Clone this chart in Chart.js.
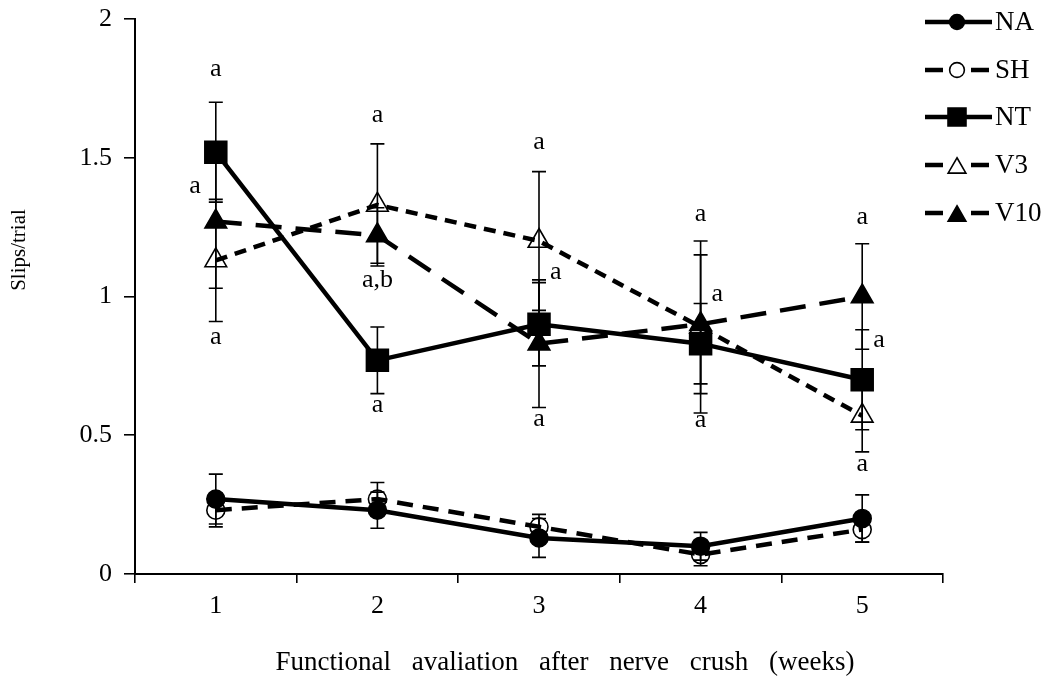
<!DOCTYPE html>
<html>
<head>
<meta charset="utf-8">
<script src="https://cdn.jsdelivr.net/npm/chart.js@4/dist/chart.umd.min.js"></script>
<style>
  html, body { margin: 0; padding: 0; background: #ffffff; }
  #c { display: block; }
</style>
</head>
<body>
<canvas id="c" width="1056" height="688"></canvas>
<script>
// ---- data ----
const weeks = ['1', '2', '3', '4', '5'];
const seriesNames = ['NA', 'SH', 'NT', 'V3', 'V10'];

const NA  = [0.27, 0.23, 0.13, 0.10, 0.20];
const NA_err  = [0.09, 0.065, 0.07, 0.05, 0.085];
const SH  = [0.23, 0.27, 0.17, 0.07, 0.16];
const SH_err  = [0.06, 0.06, 0.045, 0.04, 0.045];
const NT  = [1.52, 0.77, 0.90, 0.83, 0.70];
const NT_err  = [0.18, 0.12, 0.15, 0.145, 0.18];
const V3  = [1.13, 1.33, 1.20, 0.89, 0.57];
const V3_err  = [0.22, 0.22, 0.25, 0.31, 0.13];
const V10 = [1.27, 1.22, 0.83, 0.90, 1.00];
const V10_err = [0.24, 0.10, 0.23, 0.25, 0.19];

const yTicks = [0, 0.5, 1, 1.5, 2];

// significance letters: week, text, value on y axis, side of the bar
const letterWeek = [1, 1, 1, 2, 2, 2, 3, 3, 3, 4, 4, 4, 5, 5, 5];
const letterText = ['a', 'a', 'a', 'a', 'a,b', 'a', 'a', 'a', 'a', 'a', 'a', 'a', 'a', 'a', 'a'];
const letterY    = [1.81, 1.385, 0.843, 1.643, 1.049, 0.598, 1.546, 1.077, 0.548, 1.286, 0.998, 0.544, 1.276, 0.832, 0.386];
const letterSide = ['c', 'l', 'c', 'c', 'c', 'c', 'c', 'r', 'c', 'c', 'r', 'c', 'c', 'r', 'c'];

const xTitle = 'Functional avaliation after nerve crush (weeks)';
const yTitle = 'Slips/trial';

// ---- chart ----
const SERIF = '"Liberation Serif", "Times New Roman", serif';
const errs = [NA_err, SH_err, NT_err, V3_err, V10_err];

function ds(label, data, style, radius, fill, dash) {
  return {
    label, data,
    borderColor: '#000', backgroundColor: '#000',
    borderWidth: 4.5, borderDash: dash, tension: 0,
    pointStyle: style, pointRadius: radius, pointHoverRadius: radius,
    pointBackgroundColor: fill, pointBorderColor: '#000', pointBorderWidth: 1.6,
    fill: false
  };
}

const datasets = [
  ds(seriesNames[0], NA, 'circle', 9, '#000', []),
  ds(seriesNames[1], SH, 'circle', 9, 'rgba(0,0,0,0)', [16, 10]),
  ds(seriesNames[2], NT, 'rect', 15.5, '#000', []),
  ds(seriesNames[3], V3, 'triangle', 12.5, 'rgba(0,0,0,0)', [12, 8]),
  ds(seriesNames[4], V10, 'triangle', 12.5, '#000', [26, 14])
];

const extras = {
  id: 'extras',
  beforeDraw(chart) {
    const ctx = chart.ctx;
    ctx.save();
    ctx.fillStyle = '#fff';
    ctx.fillRect(0, 0, chart.width, chart.height);
    ctx.restore();
  },
  beforeDatasetsDraw(chart) {
    const ctx = chart.ctx;
    const xs = chart.scales.x, ys = chart.scales.y;
    ctx.save();
    ctx.strokeStyle = '#000';
    ctx.lineWidth = 1.6;
    chart.data.datasets.forEach((d, i) => {
      d.data.forEach((v, j) => {
        const e = errs[i][j];
        const x = xs.getPixelForValue(j);
        const y1 = ys.getPixelForValue(v + e);
        const y2 = ys.getPixelForValue(v - e);
        ctx.beginPath();
        ctx.moveTo(x, y1); ctx.lineTo(x, y2);
        ctx.moveTo(x - 7, y1); ctx.lineTo(x + 7, y1);
        ctx.moveTo(x - 7, y2); ctx.lineTo(x + 7, y2);
        ctx.stroke();
      });
    });
    ctx.restore();
  },
  afterDraw(chart) {
    const ctx = chart.ctx;
    const xs = chart.scales.x, ys = chart.scales.y;
    ctx.save();
    ctx.fillStyle = '#000';
    // letters
    ctx.font = '26px ' + SERIF;
    ctx.textBaseline = 'middle';
    letterText.forEach((t, k) => {
      let x = xs.getPixelForValue(letterWeek[k] - 1);
      const y = ys.getPixelForValue(letterY[k]);
      if (letterSide[k] === 'l') { ctx.textAlign = 'right'; x -= 15; }
      else if (letterSide[k] === 'r') { ctx.textAlign = 'left'; x += 11; }
      else { ctx.textAlign = 'center'; }
      ctx.fillText(t, x, y - 3);
    });
    // x title
    ctx.font = '27px ' + SERIF;
    ctx.textAlign = 'center';
    ctx.textBaseline = 'middle';
    try { ctx.wordSpacing = '14px'; } catch (e) {}
    ctx.fillText(xTitle, 565, 663);
    try { ctx.wordSpacing = '0px'; } catch (e) {}
    // y title
    ctx.save();
    ctx.translate(19, 250);
    ctx.rotate(-Math.PI / 2);
    ctx.font = '21px ' + SERIF;
    ctx.fillText(yTitle, 0, 0);
    ctx.restore();
    // legend
    const rows = [22, 70, 117, 165, 213];
    chart.data.datasets.forEach((d, i) => {
      const y = rows[i];
      ctx.save();
      ctx.strokeStyle = '#000';
      ctx.lineWidth = 4.5;
      ctx.lineCap = 'butt';
      ctx.setLineDash([]);
      ctx.beginPath();
      if (d.borderDash.length === 0) {
        ctx.moveTo(925, y); ctx.lineTo(992, y);
      } else {
        ctx.moveTo(925, y); ctx.lineTo(943, y);
        ctx.moveTo(971, y); ctx.lineTo(989, y);
      }
      ctx.stroke();
      ctx.fillStyle = d.pointBackgroundColor;
      ctx.strokeStyle = '#000';
      ctx.lineWidth = 1.6;
      Chart.helpers.drawPoint(ctx, {
        pointStyle: d.pointStyle,
        radius: d.pointRadius * 0.82,
        borderWidth: 1.6,
        rotation: 0
      }, 957, y + (d.pointStyle === 'triangle' ? 3 : 0));
      ctx.restore();
      ctx.fillStyle = '#000';
      ctx.font = '27px ' + SERIF;
      ctx.textAlign = 'left';
      ctx.textBaseline = 'middle';
      ctx.fillText(d.label, 995, y + 1);
    });
    ctx.restore();
  }
};

new Chart(document.getElementById('c'), {
  type: 'line',
  data: { labels: weeks, datasets },
  plugins: [extras],
  options: {
    responsive: false,
    animation: false,
    layout: { padding: { left: 0, right: 113, top: 19, bottom: 0 } },
    plugins: { legend: { display: false }, tooltip: { enabled: false } },
    scales: {
      x: {
        type: 'category',
        offset: true,
        grid: { display: true, offset: true, drawOnChartArea: false, drawTicks: true, tickLength: 9, color: '#000', lineWidth: 1.6 },
        border: { display: true, color: '#000', width: 2 },
        ticks: { color: '#000', font: { family: SERIF, size: 26 }, padding: 8, maxRotation: 0 },
        afterFit(s) { s.height = 114; s.paddingLeft = 0; s.paddingRight = 0; }
      },
      y: {
        min: 0, max: 2,
        afterBuildTicks(s) { s.ticks = yTicks.map(v => ({ value: v })); },
        grid: { display: true, drawOnChartArea: false, drawTicks: true, tickLength: 11, color: '#000', lineWidth: 1.6 },
        border: { display: true, color: '#000', width: 2 },
        ticks: { color: '#000', font: { family: SERIF, size: 26 }, padding: 12, callback: (v) => String(v) },
        afterFit(s) { s.width = 135; s.paddingTop = 0; s.paddingBottom = 0; }
      }
    }
  }
});
</script>
</body>
</html>
